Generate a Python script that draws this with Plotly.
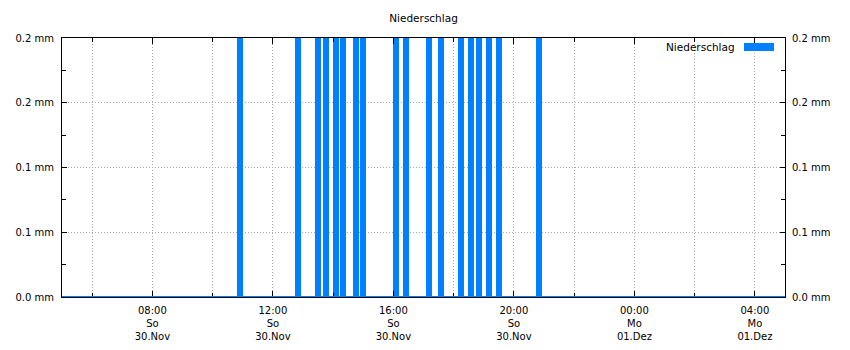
import plotly.graph_objects as go

# ---- data ----
rain_times = ["2025-11-30 10:55", "2025-11-30 12:50", "2025-11-30 13:30", "2025-11-30 13:45",
              "2025-11-30 14:05", "2025-11-30 14:20", "2025-11-30 14:45", "2025-11-30 15:00",
              "2025-11-30 16:05", "2025-11-30 16:25", "2025-11-30 17:10", "2025-11-30 17:35",
              "2025-11-30 18:15", "2025-11-30 18:35", "2025-11-30 18:50", "2025-11-30 19:10",
              "2025-11-30 19:30", "2025-11-30 20:50"]
rain_mm = [0.2, 0.2, 0.2, 0.2, 0.2, 0.2, 0.2, 0.2, 0.2, 0.2, 0.2, 0.2, 0.2, 0.2, 0.2, 0.2, 0.2, 0.2]

x_tick_vals = ["2025-11-30 08:00", "2025-11-30 12:00", "2025-11-30 16:00",
               "2025-11-30 20:00", "2025-12-01 00:00", "2025-12-01 04:00"]
x_tick_text = ["08:00<br>So<br>30.Nov", "12:00<br>So<br>30.Nov", "16:00<br>So<br>30.Nov",
               "20:00<br>So<br>30.Nov", "00:00<br>Mo<br>01.Dez", "04:00<br>Mo<br>01.Dez"]
y_tick_vals = [0, 0.05, 0.1, 0.15, 0.2]
y_tick_text = ["0.0 mm", "0.1 mm", "0.1 mm", "0.2 mm", "0.2 mm"]
x_range = ["2025-11-30 05:00", "2025-12-01 05:00"]
y_range = [0, 0.2]
series_name = "Niederschlag"
title_text = "Niederschlag"

BLUE = "#0080ff"
FONT = "DejaVu Sans"
GRID = "#a8a8a8"
DASH = "1px,2px"

fig = go.Figure()
fig.add_trace(go.Bar(x=rain_times, y=rain_mm, name=series_name, marker=dict(color=BLUE, line=dict(width=0)),
                     width=[12 * 60 * 1000] * len(rain_times), showlegend=False))
# helper trace so the right axis is rendered
fig.add_trace(go.Scatter(x=[x_range[0]], y=[0], yaxis="y2", mode="markers",
                         marker=dict(opacity=0), hoverinfo="skip", showlegend=False))

fig.update_layout(
    width=850, height=350,
    margin=dict(l=62, r=65, t=38, b=53, autoexpand=False),
    paper_bgcolor="white", plot_bgcolor="white",
    font=dict(family=FONT, size=10, color="black"),
    title=dict(text=title_text, x=0.5, xref="paper", y=1 - 18 / 350, yref="container",
               xanchor="center", yanchor="middle", font=dict(family=FONT, size=10.5, color="black")),
    bargap=0,
    xaxis=dict(
        type="date", range=x_range, automargin=False,
        tickmode="array", tickvals=x_tick_vals, ticktext=x_tick_text,
        ticks="inside", ticklen=6, tickcolor="black", tickwidth=1,
        showline=True, linecolor="black", linewidth=1, mirror="ticks",
        showgrid=True, gridcolor=GRID, griddash=DASH, gridwidth=1,
        minor=dict(dtick=2 * 3600 * 1000, tick0="2025-11-30 00:00", ticks="inside", ticklen=4,
                   tickcolor="black", showgrid=True, gridcolor=GRID, griddash=DASH, gridwidth=1),
        tickfont=dict(family=FONT, size=10), ticklabelstandoff=4,
        zeroline=False, fixedrange=True,
    ),
    yaxis=dict(
        range=y_range, tickmode="array", tickvals=y_tick_vals, ticktext=y_tick_text, automargin=False,
        ticks="inside", ticklen=5, tickcolor="black",
        showline=True, linecolor="black", linewidth=1, mirror="ticks",
        showgrid=True, gridcolor=GRID, griddash=DASH, gridwidth=1,
        minor=dict(dtick=0.025, tick0=0, ticks="inside", ticklen=4, tickcolor="black", showgrid=False),
        tickfont=dict(family=FONT, size=10), zeroline=False, ticklabelstandoff=5,
    ),
    yaxis2=dict(
        range=y_range, overlaying="y", side="right", tickmode="array", automargin=False,
        tickvals=y_tick_vals, ticktext=y_tick_text, ticks="", showgrid=False,
        showline=False, zeroline=False, tickfont=dict(family=FONT, size=10), ticklabelstandoff=6,
    ),
)

# baseline of the precipitation series
fig.add_shape(type="line", xref="paper", yref="y", x0=0, x1=1, y0=0, y1=0,
              line=dict(color=BLUE, width=2))

# legend (text left of swatch)
fig.add_annotation(text=series_name, xref="paper", yref="paper", x=(737 - 62) / 723, y=(297 - 47) / 259,
                   xanchor="right", yanchor="middle", showarrow=False,
                   font=dict(family=FONT, size=10.5, color="black"))
fig.add_shape(type="rect", xref="paper", yref="paper",
              x0=(744 - 62) / 723, x1=(774 - 62) / 723, y0=(297 - 51) / 259, y1=(297 - 43) / 259,
              fillcolor=BLUE, line=dict(width=0))

fig.write_html("out.html")
